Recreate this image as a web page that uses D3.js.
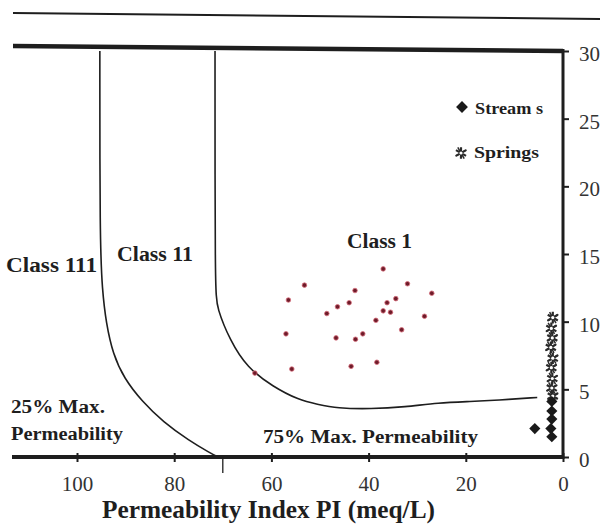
<!DOCTYPE html>
<html><head><meta charset="utf-8">
<script src="https://cdn.jsdelivr.net/npm/d3@7"></script>
<style>body{margin:0;background:#fff}svg{display:block}</style></head>
<body>
<script>
// ---- data ----
const xTicks = [100, 80, 60, 40, 20, 0];
const yTicks = [0, 5, 10, 15, 20, 25, 30];
// boundary curves [PI, y]
const curve25 = [[95.3,30],[95.3,16.0],[94.8,12.3],[94.0,9.9],[92.6,7.6],[90.3,5.8],[86.6,4.1],[82.3,2.6],[76.9,1.2],[72.6,0.3],[71.0,0]];
const curve75 = [[71.6,30],[71.6,12.3],[71.2,11.0],[68.5,8.6],[65.0,6.6],[59.7,5.2],[54.3,4.2],[50.6,3.9],[46.5,3.6],[39.5,3.55],[32.5,3.7],[25.7,4.0],[18.9,4.1],[13.6,4.2],[5.3,4.4]];
// samples
const class1X = [37.0,53.2,32.0,27.0,56.5,42.8,44.0,34.4,36.2,46.4,48.6,37.0,35.5,28.5,38.5,33.2,57.0,46.7,42.7,41.2,55.8,43.6,38.3,63.4];
const class1Y = [13.9,12.7,12.8,12.1,11.6,12.3,11.4,11.7,11.4,11.1,10.6,10.8,10.7,10.4,10.1,9.4,9.1,8.8,8.7,9.1,6.5,6.7,7.0,6.2];
const streamsX = [2.3,2.3,2.3,2.5,2.3,5.8];
const streamsY = [4.1,3.4,2.8,2.1,1.5,2.1];
const springsX = [2.1,2.4,2.2,2.5,2.1,2.4,2.2,2.3,2.1];
const springsY = [10.3,9.5,8.8,8.1,7.3,6.6,5.8,5.1,4.5];

const W = 604, H = 529;
const svg = d3.select("body").append("svg").attr("width", W).attr("height", H)
  .style("font-family", "'Liberation Serif', 'DejaVu Serif', serif");
svg.append("rect").attr("width", W).attr("height", H).attr("fill", "#fff");

const x = d3.scaleLinear().domain([0, 100]).range([563, 77]);
const y = d3.scaleLinear().domain([0, 30]).range([457, 51]);
const ink = "#1e1e1e";

// thin line at top
svg.append("line").attr("x1", 13).attr("y1", 13).attr("x2", 600).attr("y2", 19)
  .attr("stroke", ink).attr("stroke-width", 2);

// frame
svg.append("line").attr("x1", 13).attr("y1", y(30) - 5).attr("x2", x(0)).attr("y2", y(30))
  .attr("stroke", ink).attr("stroke-width", 4.5);
svg.append("line").attr("x1", 12).attr("y1", y(0)).attr("x2", x(0)).attr("y2", y(0))
  .attr("stroke", ink).attr("stroke-width", 4);
svg.append("line").attr("x1", x(0)).attr("y1", y(30) - 2).attr("x2", x(0)).attr("y2", y(0) + 2)
  .attr("stroke", ink).attr("stroke-width", 3);

// x axis
const xAxis = svg.append("g").attr("transform", `translate(0,${y(0)})`)
  .call(d3.axisBottom(x).tickValues(xTicks).tickSize(5).tickPadding(14).tickFormat(d3.format("d")));
xAxis.select(".domain").remove();
xAxis.selectAll(".tick line").attr("stroke", ink).attr("stroke-width", 2).attr("y1", -4);
xAxis.selectAll(".tick text").attr("fill", "#333").style("font-size", "21px")
  .style("font-family", "'Liberation Serif', serif");

// right y axis
const yAxis = svg.append("g").attr("transform", `translate(${x(0)},0)`)
  .call(d3.axisRight(y).tickValues(yTicks).tickSize(6).tickPadding(10).tickFormat(d3.format("d")));
yAxis.select(".domain").remove();
yAxis.selectAll(".tick line").attr("stroke", ink).attr("stroke-width", 2);
yAxis.selectAll(".tick text").attr("fill", "#333").style("font-size", "21px")
  .style("font-family", "'Liberation Serif', serif").attr("dy", "0.45em");

// boundary curves
const line = d3.line().x(d => x(d[0])).y(d => y(d[1])).curve(d3.curveBasis);
svg.append("path").attr("d", line(curve25)).attr("fill", "none").attr("stroke", ink).attr("stroke-width", 1.6);
svg.append("path").attr("d", line(curve75)).attr("fill", "none").attr("stroke", ink).attr("stroke-width", 1.6);
// short mark below axis at PI 70
svg.append("line").attr("x1", x(70)).attr("x2", x(70)).attr("y1", y(0)).attr("y2", y(0) + 16)
  .attr("stroke", ink).attr("stroke-width", 1.3);

// class 1 points
svg.append("g").selectAll("circle").data(class1X).join("circle")
  .attr("cx", d => x(d)).attr("cy", (d, i) => y(class1Y[i])).attr("r", 2.3)
  .attr("fill", "#6e1c2a").attr("stroke", "#d9707e").attr("stroke-width", 0.8);

// springs (asterisks)
const star = d3.symbol().type(d3.symbolAsterisk).size(95);
const cross = d3.symbol().type(d3.symbolTimes).size(55);
function drawStar(g, px, py) {
  g.append("path").attr("d", star()).attr("transform", `translate(${px},${py})`)
    .attr("fill", "none").attr("stroke", "#2a2a2a").attr("stroke-width", 2.2);
  g.append("path").attr("d", cross()).attr("transform", `translate(${px},${py}) rotate(15)`)
    .attr("fill", "none").attr("stroke", "#2a2a2a").attr("stroke-width", 1.5);
  g.append("circle").attr("cx", px).attr("cy", py).attr("r", 1.6).attr("fill", "#fff");
}
const sg = svg.append("g");
springsX.forEach((v, i) => drawStar(sg, x(v), y(springsY[i])));

// streams (diamonds = rotated squares)
const sq = d3.symbol().type(d3.symbolSquare).size(62);
svg.append("g").selectAll("path").data(streamsX).join("path")
  .attr("d", sq()).attr("transform", (d, i) => `translate(${x(d)},${y(streamsY[i])}) rotate(45)`)
  .attr("fill", "#1a1a1a");

// labels
function label(t, px, py, size, len, weight) {
  svg.append("text").attr("x", px).attr("y", py).text(t)
    .attr("fill", "#1e1e1e").style("font-size", size + "px").style("font-weight", weight || "bold")
    .attr("textLength", len).attr("lengthAdjust", "spacingAndGlyphs");
}
label("Class 111", 6, 272, 20, 91);
label("Class 11", 117, 261, 20, 76);
label("Class 1", 347, 248, 20, 65);
label("25% Max.", 11, 413, 18, 94);
label("Permeability", 11, 440, 18, 112);
label("75% Max. Permeability", 263, 443, 18, 215);

// legend
svg.append("path").attr("d", d3.symbol().type(d3.symbolSquare).size(70)())
  .attr("transform", "translate(462,107) rotate(45)").attr("fill", "#1a1a1a");
label("Stream s", 475, 114, 17, 68, "600");
drawStar(svg, 461, 153);
label("Springs", 474, 158, 17, 65, "600");

// axis title
label("Permeability Index PI (meq/L)", 102, 518, 25, 333);
</script>
</body></html>
